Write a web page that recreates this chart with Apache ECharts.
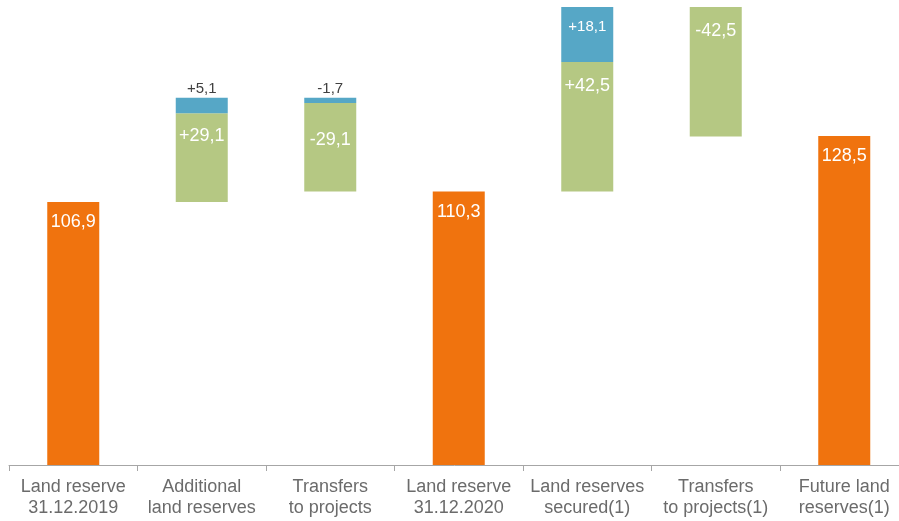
<!DOCTYPE html>
<html><head><meta charset="utf-8">
<script src="https://cdn.jsdelivr.net/npm/echarts@6/dist/echarts.min.js"></script>
<style>html,body{margin:0;padding:0;background:#fff}#c{width:899px;height:521px}</style>
</head><body><div id="c"></div>
<script>
const categories = ['Land reserve\n31.12.2019', 'Additional\nland reserves', 'Transfers\nto projects', 'Land reserve\n31.12.2020', 'Land reserves\nsecured(1)', 'Transfers\nto projects(1)', 'Future land\nreserves(1)'];
const totals = [106.9, null, null, 110.3, null, null, 128.5];
const greenChanges = [null, 29.1, -29.1, null, 42.5, -42.5, null];
const blueChanges = [null, 5.1, -1.7, null, 18.1, null, null];

const greenLabelDist = [0, 14, 28, 0, 15, 15, 0];

// waterfall base computed from the values
const base = [];
let running = 0;
categories.forEach((c, i) => {
  if (totals[i] != null) { running = totals[i]; base.push('-'); return; }
  const net = (greenChanges[i] || 0) + (blueChanges[i] || 0);
  const next = running + net;
  base.push(Math.min(running, next));
  running = next;
});

const fmtSigned = v => (v > 0 ? '+' : '-') + Math.abs(v).toFixed(1).replace('.', ',');
const FONT = '"Liberation Sans", Arial, sans-serif';
const ORANGE = '#F0730E', GREEN = '#B5C883', BLUE = '#56A7C6';

const chart = echarts.init(document.getElementById('c'), null, {renderer: 'canvas'});
chart.setOption({
  animation: false,
  grid: {left: 9, right: -9.5, top: 7, bottom: 56, containLabel: false, outerBoundsMode: 'none'},
  xAxis: {
    type: 'category', data: categories,
    axisLine: {lineStyle: {color: '#A6A6A6', width: 1}},
    axisTick: {show: true, length: 6, lineStyle: {color: '#A6A6A6'}},
    axisLabel: {color: '#6B6B6B', fontSize: 18, fontFamily: FONT, lineHeight: 21.5, margin: 11, interval: 0}
  },
  yAxis: {type: 'value', min: 20.5, max: 170.9, show: false, splitLine: {show: false}},
  series: [
    {type: 'bar', stack: 'w', barWidth: 52, silent: true,
     itemStyle: {color: 'transparent'}, data: base},
    {type: 'bar', stack: 'w', barWidth: 52,
     itemStyle: {color: ORANGE},
     label: {show: true, position: 'insideTop', distance: 11, color: '#fff', fontSize: 18, fontFamily: FONT,
             formatter: p => p.value.toFixed(1).replace('.', ',')},
     data: totals.map(v => v == null ? '-' : v)},
    {type: 'bar', stack: 'w', barWidth: 52,
     itemStyle: {color: GREEN},
     data: greenChanges.map((v, i) => v == null ? '-' : {
       value: Math.abs(v),
       label: {show: true, position: 'insideTop', distance: greenLabelDist[i], color: '#fff', fontSize: 18, fontFamily: FONT,
               formatter: () => fmtSigned(v)}
     })},
    {type: 'bar', stack: 'w', barWidth: 52,
     itemStyle: {color: BLUE},
     data: blueChanges.map(v => v == null ? '-' : {
       value: Math.abs(v),
       label: Math.abs(v) > 8 ?
         {show: true, position: 'insideTop', distance: 12.5, color: '#fff', fontSize: 15, fontFamily: FONT, formatter: () => fmtSigned(v)} :
         {show: true, position: 'top', distance: 1.5, color: '#404040', fontSize: 15, fontFamily: FONT, formatter: () => fmtSigned(v)}
     })}
  ]
});
</script></body></html>
